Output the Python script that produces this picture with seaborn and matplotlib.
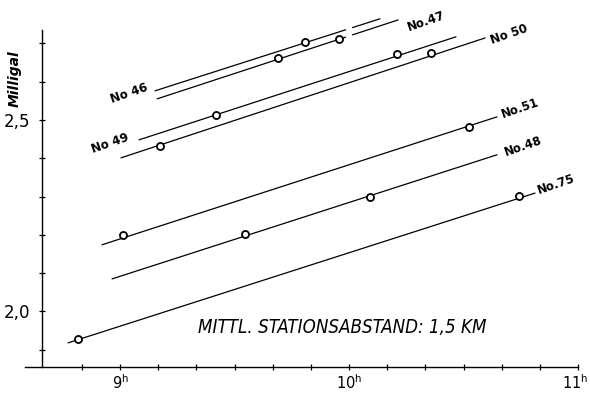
import matplotlib
matplotlib.use("Agg")
import matplotlib.pyplot as plt
import matplotlib.transforms as mtransforms
import seaborn as sns
import numpy as np
import pandas as pd

# reading lines (gravimeter drift), time in hours, value in milligal
station = ["No 46", "No 47", "No 49", "No 50", "No 51", "No 48", "No 75"]
line_x0 = [9.153, 9.162, 9.083, 9.004, 8.921, 8.965, 8.773]
line_x1 = [10.135, 10.214, 10.467, 10.594, 10.646, 10.646, 10.812]
line_y0 = [2.576, 2.555, 2.448, 2.401, 2.174, 2.085, 1.918]
line_y1 = [2.764, 2.761, 2.717, 2.714, 2.508, 2.409, 2.309]
gapped = ["No 46", "No 47"]
gap_x = (9.985, 10.015)

obs_station = ["No 46", "No 47", "No 47", "No 49", "No 49", "No 50", "No 50",
               "No 51", "No 51", "No 48", "No 48", "No 75", "No 75"]
obs_time = [9.808, 9.690, 9.956, 9.419, 10.210, 9.175, 10.358,
            9.013, 10.524, 9.546, 10.092, 8.817, 10.742]
obs_mgal = [2.704, 2.662, 2.711, 2.513, 2.672, 2.432, 2.675,
            2.200, 2.482, 2.202, 2.299, 1.928, 2.302]

label_text = ["No 46", "No.47", "No 49", "No 50", "No.51", "No.48", "No.75"]
label_x = [9.039, 10.336, 8.956, 10.699, 10.747, 10.760, 10.904]
label_y = [2.570, 2.758, 2.440, 2.722, 2.531, 2.432, 2.333]

xtick_major = [9, 10, 11]
xtick_labels = ["9$^\\mathregular{h}$", "10$^\\mathregular{h}$", "11$^\\mathregular{h}$"]
ytick_major = [2.0, 2.5]
ytick_labels = ["2,0", "2,5"]

sns.set_style("white")
plt.rcParams["font.family"] = ["DejaVu Sans"]
plt.rcParams["text.color"] = "black"
plt.rcParams["xtick.color"] = "black"
plt.rcParams["ytick.color"] = "black"
plt.rcParams["axes.labelcolor"] = "black"

# build line segments (split the two upper lines at the break near 10h)
rows = []
for s, x0, x1, y0, y1 in zip(station, line_x0, line_x1, line_y0, line_y1):
    slope = (y1 - y0) / (x1 - x0)
    if s in gapped:
        segs = [(x0, gap_x[0]), (gap_x[1], x1)]
    else:
        segs = [(x0, x1)]
    for k, (a, b) in enumerate(segs):
        for xx in (a, b):
            rows.append({"seg": f"{s}-{k}", "t": xx, "mgal": y0 + slope * (xx - x0)})
lines = pd.DataFrame(rows)
obs = pd.DataFrame({"station": obs_station, "t": obs_time, "mgal": obs_mgal})

fig = plt.figure(figsize=(5.9, 3.94), dpi=100)
ax = fig.add_axes([25 / 590, 27 / 394, 565 / 590, 362 / 394])

sns.lineplot(data=lines, x="t", y="mgal", units="seg", estimator=None,
             color="black", linewidth=0.9, ax=ax, legend=False)
sns.scatterplot(data=obs, x="t", y="mgal", marker="o", s=26,
                facecolor="white", edgecolor="black", linewidth=1.3,
                ax=ax, legend=False, zorder=3)

for txt, x, y in zip(label_text, label_x, label_y):
    ax.text(x, y, txt, rotation=19, ha="center", va="center",
            fontsize=8.5, fontweight="bold", rotation_mode="anchor")

ax.set_xlim(8.585, 11.052)
ax.set_ylim(1.855, 2.800)

for side in ["top", "right"]:
    ax.spines[side].set_visible(False)
ax.spines["left"].set_position(("data", 8.659))
ax.spines["left"].set_bounds(1.855, 2.735)
ax.spines["bottom"].set_bounds(8.585, 11.0)
for side in ["left", "bottom"]:
    ax.spines[side].set_color("black")
    ax.spines[side].set_linewidth(1.0)

ax.set_xticks(xtick_major)
ax.set_xticklabels(xtick_labels, fontsize=10.5)
ax.set_xticks(np.arange(8 + 50 / 60, 11.0, 1 / 6), minor=True)
ax.set_yticks(ytick_major)
ax.set_yticklabels(ytick_labels, fontsize=12)
ax.set_yticks(np.arange(1.9, 2.71, 0.1), minor=True)
ax.tick_params(which="both", direction="inout", length=5, width=0.9,
               color="black", labelcolor="black", left=True, bottom=True)
ax.tick_params(axis="y", pad=6)
ax.tick_params(axis="x", pad=2)
ax.set_xlabel("")
ax.set_ylabel("")

# nudge the last hour label inward so it stays inside the figure
last = ax.get_xticklabels()[-1]
last.set_transform(last.get_transform() +
                   mtransforms.ScaledTranslation(-3 / 100, 0, fig.dpi_scale_trans))

ax.text(8.541, 2.607, "Milligal", rotation=90, ha="center", va="center",
        fontsize=10, fontweight="bold", fontstyle="italic", clip_on=False)
ax.text(9.969, 1.957, "MITTL. STATIONSABSTAND: 1,5 KM", ha="center", va="center",
        fontsize=13.4, fontstyle="italic", fontstretch="condensed")

fig.savefig("out.png", dpi=100)
